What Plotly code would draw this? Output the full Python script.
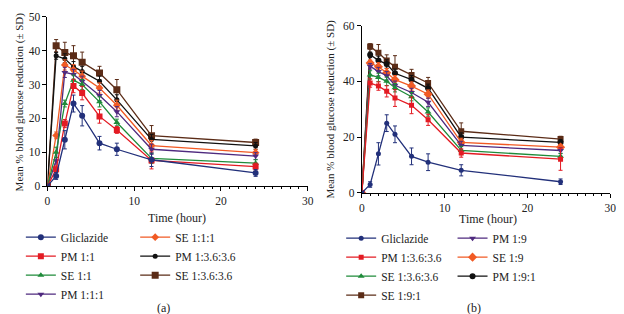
import plotly.graph_objects as go

time = [0, 1, 2, 3, 4, 6, 8, 12, 24]

# Panel (a)
a_names = ["Gliclazide", "PM 1:1", "SE 1:1", "PM 1:1:1", "SE 1:1:1", "PM 1:3.6:3.6", "SE 1:3.6:3.6"]
a_gliclazide = [0, 3.0, 13.7, 24.4, 20.8, 12.7, 10.9, 7.8, 3.9]
a_pm11 = [0, 5.0, 18.5, 29.6, 27.5, 20.6, 16.6, 7.6, 5.8]
a_se11 = [0, 10.0, 24.4, 31.3, 30.0, 24.9, 18.8, 8.2, 6.8]
a_pm111 = [0, 7.5, 33.6, 33.0, 31.0, 26.8, 22.0, 10.9, 8.9]
a_se111 = [0, 15.0, 35.8, 34.4, 32.5, 29.0, 23.9, 12.0, 9.9]
a_pm363 = [0, 38.5, 37.6, 35.3, 33.9, 31.0, 25.5, 13.8, 11.9]
a_se363 = [0, 41.5, 39.5, 38.5, 36.6, 33.4, 28.5, 14.9, 12.9]
a_gliclazide_sd = [0, 1.0, 2.7, 2.5, 3.0, 2.0, 1.8, 2.0, 1.0]
a_pm11_sd = [0, 1.0, 1.2, 2.0, 2.0, 2.0, 1.0, 2.5, 1.0]
a_se11_sd = [0, 1.5, 1.0, 1.5, 1.5, 1.5, 1.0, 1.5, 1.0]
a_pm111_sd = [0, 1.0, 1.5, 1.5, 1.5, 1.5, 1.5, 1.5, 1.0]
a_se111_sd = [0, 1.0, 1.5, 1.5, 1.5, 1.5, 1.5, 1.5, 1.0]
a_pm363_sd = [0, 1.0, 1.5, 1.5, 1.5, 1.5, 1.5, 1.5, 1.0]
a_se363_sd = [0, 1.8, 3.0, 3.0, 3.0, 2.0, 3.0, 3.0, 1.0]

# Panel (b)
b_names = ["Gliclazide", "PM 1:3.6:3.6", "SE 1:3.6:3.6", "SE 1:9:1", "PM 1:9", "SE 1:9", "PM 1:9:1"]
b_gliclazide = [0, 3.0, 14.0, 25.0, 21.0, 13.1, 11.0, 8.1, 4.0]
b_pm363 = [0, 39.4, 38.3, 36.4, 34.0, 31.4, 26.2, 14.3, 12.1]
b_se363 = [0, 42.3, 41.4, 40.0, 37.7, 34.5, 29.0, 15.2, 13.1]
b_se191 = [0, 52.5, 50.2, 47.5, 45.2, 42.3, 39.4, 22.1, 19.3]
b_pm19 = [0, 45.4, 43.5, 42.0, 38.6, 36.0, 32.5, 17.0, 15.2]
b_se19 = [0, 46.6, 45.2, 43.1, 40.6, 38.3, 35.4, 18.1, 16.4]
b_pm191 = [0, 49.5, 47.5, 46.2, 42.9, 40.6, 37.5, 20.0, 18.1]
b_gliclazide_sd = [0, 1.0, 4.0, 3.0, 3.0, 3.0, 3.0, 2.0, 1.0]
b_pm363_sd = [0, 1.5, 1.5, 2.0, 3.0, 3.0, 2.0, 1.5, 4.0]
b_se363_sd = [0, 1.5, 1.5, 1.5, 1.5, 1.5, 1.5, 1.5, 1.0]
b_se191_sd = [0, 1.0, 3.0, 2.0, 4.0, 2.0, 2.0, 3.0, 1.0]
b_pm19_sd = [0, 1.0, 1.5, 1.5, 1.5, 1.5, 1.5, 1.5, 1.0]
b_se19_sd = [0, 1.0, 1.5, 1.5, 1.5, 1.5, 1.5, 1.5, 1.0]
b_pm191_sd = [0, 1.0, 1.5, 1.5, 1.5, 1.5, 1.5, 1.5, 1.0]

NAVY = "#22307a"
RED = "#e31b23"
GREEN = "#1f8b3a"
PURPLE = "#4f2a7f"
ORANGE = "#f15a24"
BLACK = "#111111"
BROWN = "#5b2c17"

FONT = "'Liberation Serif', 'Times New Roman', serif"

fig = go.Figure()

def add(x, y, sd, name, color, symbol, xa, ya, legend, msize=6):
    fig.add_trace(go.Scatter(
        x=x, y=y, name=name, mode="lines+markers",
        line=dict(color=color, width=1.3),
        marker=dict(color=color, symbol=symbol, size=msize),
        error_y=dict(type="data", array=sd, color=color, thickness=1, width=2),
        xaxis=xa, yaxis=ya, legend=legend,
    ))

# panel a
add(time, a_se363, a_se363_sd, a_names[6], BROWN, "square", "x", "y", "legend2", 7)
add(time, a_pm363, a_pm363_sd, a_names[5], BLACK, "circle", "x", "y", "legend2", 5)
add(time, a_se111, a_se111_sd, a_names[4], ORANGE, "diamond", "x", "y", "legend2", 6)
add(time, a_pm111, a_pm111_sd, a_names[3], PURPLE, "triangle-down", "x", "y", "legend", 6)
add(time, a_se11, a_se11_sd, a_names[2], GREEN, "triangle-up", "x", "y", "legend", 6)
add(time, a_pm11, a_pm11_sd, a_names[1], RED, "square", "x", "y", "legend", 6)
add(time, a_gliclazide, a_gliclazide_sd, a_names[0], NAVY, "circle", "x", "y", "legend", 6)

# panel b
add(time, b_se191, b_se191_sd, b_names[3], BROWN, "square", "x2", "y2", "legend3", 6)
add(time, b_pm191, b_pm191_sd, b_names[6], BLACK, "circle", "x2", "y2", "legend4", 6)
add(time, b_se19, b_se19_sd, b_names[5], ORANGE, "diamond", "x2", "y2", "legend4", 7)
add(time, b_pm19, b_pm19_sd, b_names[4], PURPLE, "triangle-down", "x2", "y2", "legend4", 6)
add(time, b_se363, b_se363_sd, b_names[2], GREEN, "triangle-up", "x2", "y2", "legend3", 6)
add(time, b_pm363, b_pm363_sd, b_names[1], RED, "square", "x2", "y2", "legend3", 5)
add(time, b_gliclazide, b_gliclazide_sd, b_names[0], NAVY, "circle", "x2", "y2", "legend3", 5)

W, H = 624, 314
def px(v):
    return v / W
def py(v):
    return 1 - v / H

axis_common = dict(
    showline=True, linecolor="black", linewidth=1, ticks="outside", ticklen=4,
    tickcolor="black", showgrid=False, zeroline=False,
    tickfont=dict(family=FONT, size=11.5, color="#222"),
)

fig.update_layout(
    width=W, height=H, margin=dict(l=0, r=0, t=0, b=0),
    paper_bgcolor="white", plot_bgcolor="white",
    font=dict(family=FONT, size=11.5, color="#222"),
    xaxis=dict(domain=[px(37), px(301)], anchor="y", range=[0, 30], dtick=10,
               minor=dict(dtick=1, ticks="outside", ticklen=2, tickcolor="black"), **axis_common),
    yaxis=dict(domain=[py(179), py(3)], anchor="x", range=[0, 50], dtick=10, **axis_common),
    xaxis2=dict(domain=[px(356), px(608)], anchor="y2", range=[0, 30], dtick=10,
                minor=dict(dtick=1, ticks="outside", ticklen=2, tickcolor="black"), **axis_common),
    yaxis2=dict(domain=[py(186), py(12)], anchor="x2", range=[0, 60], dtick=20, **axis_common),
    showlegend=True,
)

leg_common = dict(bgcolor="rgba(0,0,0,0)", font=dict(family=FONT, size=11.5, color="#222"),
                  xanchor="left", yanchor="top", itemwidth=30, tracegroupgap=0,
                  traceorder="reversed")
fig.update_layout(
    legend=dict(x=px(10), y=py(217), **leg_common),
    legend2=dict(x=px(126), y=py(217), **leg_common),
    legend3=dict(x=px(335), y=py(218), **leg_common),
    legend4=dict(x=px(448), y=py(218), **leg_common),
)

ann = [
    dict(text="Mean % blood glucose reduction (± SD)", x=px(9), y=py(91), textangle=-90,
         font=dict(size=11)),
    dict(text="Mean % blood glucose reduction (± SD)", x=px(324), y=py(99), textangle=-90,
         font=dict(size=11)),
    dict(text="Time (hour)", x=px(168), y=py(212), font=dict(size=12)),
    dict(text="Time (hour)", x=px(484), y=py(213), font=dict(size=12)),
    dict(text="(a)", x=px(155), y=py(306), font=dict(size=12)),
    dict(text="(b)", x=px(470), y=py(306), font=dict(size=12)),
]
for a in ann:
    a.update(xref="paper", yref="paper", showarrow=False, xanchor="center", yanchor="middle")
    fig.add_annotation(**a)

fig.write_html("out.html")
